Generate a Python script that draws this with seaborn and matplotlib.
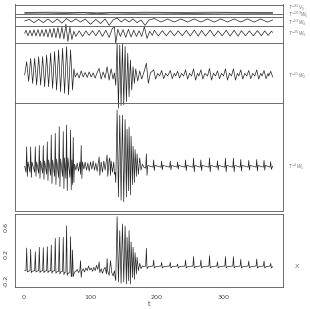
import numpy as np
import pandas as pd
import matplotlib
matplotlib.use("Agg")
import matplotlib.pyplot as plt
import seaborn as sns

sns.set_style("white")
plt.rcParams['font.family'] = ['DejaVu Sans']

# ---------------- data (key vertices) ----------------
# X series
x_t = [1, 3, 4, 5, 6, 9, 10, 11, 12, 16, 17, 18, 19, 22, 23, 24, 25, 28, 29, 30, 31, 34, 35, 36, 37,
       40, 41, 42, 43, 46, 47, 48, 49, 52, 53, 54, 55, 58, 59, 60, 61, 63, 64, 65, 66, 69, 70, 71, 72,
       73, 74, 75, 77,
       78, 80, 82, 84, 85, 86, 87, 89, 91, 93, 95, 97, 99, 101, 103, 105, 107, 109, 111, 113,
       114, 116, 118, 120, 122, 124, 125, 126, 128, 130, 132, 134, 136,
       137, 138, 140, 142, 144, 146, 148, 150, 152, 154, 155, 157, 158, 160, 161, 163, 164, 166, 167,
       169, 170, 172, 174, 176, 178,
       180, 183, 184, 185, 187, 194, 195, 196, 198, 206, 207, 208, 210, 219, 220, 221, 223, 230, 231,
       232, 234, 242, 243, 244, 246, 254, 255, 256, 258, 265, 266, 267, 269, 278, 279, 280, 282, 290,
       291, 292, 294, 302, 303, 304, 306, 314, 315, 316, 318, 325, 326, 327, 329, 337, 338, 339, 341,
       349, 350, 351, 353, 360, 361, 362, 364, 370, 371, 372, 374]
x_v = [-0.05, -0.05, 0.29, -0.07, -0.06, -0.05, 0.27, -0.08, -0.06, -0.05, 0.235, -0.07, -0.06,
       -0.05, 0.30, -0.08, -0.06, -0.05, 0.295, -0.08, -0.06, -0.05, 0.31, -0.08, -0.06,
       -0.05, 0.335, -0.09, -0.06, -0.05, 0.435, -0.09, -0.07, -0.06, 0.45, -0.10, -0.07,
       -0.06, 0.45, -0.11, -0.08, -0.07, 0.625, -0.12, -0.09, -0.08, 0.46, -0.13, -0.14,
       0.26, -0.14, -0.10, -0.06,
       -0.06, -0.03, -0.08, -0.04, 0.10, -0.15, -0.06, -0.02, -0.07, -0.01, -0.05, 0.02, -0.04, -0.01,
       -0.06, 0.0, -0.05, 0.03, -0.03, 0.08, -0.08, -0.02, -0.09, -0.03, 0.0, -0.10, 0.13, -0.06,
       -0.12, 0.10, -0.08, -0.13, -0.05,
       -0.15, -0.20, 0.76, -0.22, 0.55, -0.24, 0.65, -0.22, 0.62, -0.25, 0.45, -0.20, 0.55, -0.25,
       0.38, -0.15, 0.30, -0.18, 0.22, -0.10, 0.15, -0.05, 0.06, -0.02, 0.02,
       0.01,
       0.02, 0.285, -0.02, 0.01, 0.02, 0.11, -0.01, 0.01, 0.02, 0.075, -0.01, 0.01,
       0.02, 0.075, -0.01, 0.01, 0.02, 0.05, -0.01, 0.01, 0.02, 0.11, -0.01, 0.01,
       0.02, 0.16, -0.01, 0.01, 0.02, 0.11, -0.01, 0.01, 0.02, 0.175, -0.01, 0.01,
       0.02, 0.085, -0.01, 0.01, 0.02, 0.16, -0.01, 0.01, 0.02, 0.16, -0.01, 0.01,
       0.02, 0.12, -0.01, 0.01, 0.02, 0.095, -0.01, 0.01, 0.02, 0.125, -0.01, 0.01,
       0.02, 0.095, -0.01, 0.01, 0.02, 0.06, -0.01, 0.01]

# W1 detail
w1_t = [1, 3, 4, 5, 6, 9, 10, 11, 12, 16, 17, 18, 19, 22, 23, 24, 25, 28, 29, 30, 31, 34, 35, 36, 37,
        40, 41, 42, 43, 46, 47, 48, 49, 52, 53, 54, 55, 58, 59, 60, 61, 63, 64, 65, 66, 69, 70, 71, 72,
        73, 74, 75, 76,
        78, 80, 82, 84, 85, 86, 87, 88, 90, 92, 94, 96, 98, 100, 102, 104, 106, 108, 110, 112,
        113, 114, 116, 118, 120, 122, 124, 125, 126, 128, 129, 130, 131, 133, 135, 136,
        137, 138, 140, 142, 144, 146, 148, 150, 152, 154, 155, 157, 158, 160, 161, 163, 164, 166, 167,
        169, 170, 172, 174, 176, 178, 180,
        183, 184, 185, 186, 194, 195, 196, 197, 206, 207, 208, 209, 219, 220, 221, 222, 230, 231, 232,
        233, 242, 243, 244, 245, 254, 255, 256, 257, 265, 266, 267, 268, 278, 279, 280, 281, 290, 291,
        292, 293, 302, 303, 304, 305, 314, 315, 316, 317, 325, 326, 327, 328, 337, 338, 339, 340, 349,
        350, 351, 352, 360, 361, 362, 363, 370, 371, 372, 374]
w1_v = [0.0, -0.3, 0.94, -0.5, 0.2, -0.3, 0.94, -0.55, 0.2, -0.3, 0.94, -0.5, 0.2,
        -0.35, 1.0, -0.6, 0.25, -0.35, 1.0, -0.65, 0.25, -0.4, 1.18, -0.7, 0.3,
        -0.45, 1.51, -0.85, 0.3, -0.5, 1.6, -0.9, 0.35, -0.55, 1.92, -1.0, 0.35,
        -0.5, 1.68, -1.1, 0.4, -0.6, 2.0, -1.2, 0.4, -0.55, 1.75, -1.15, 0.3,
        -0.9, 1.4, -0.8, 0.1,
        -0.2, 0.15, -0.25, 0.2, -0.4, 1.0, -0.6, 0.2, -0.15, 0.2, -0.2, 0.15, -0.25, 0.2, -0.15, 0.25,
        -0.2, 0.15, -0.25, 0.2,
        0.45, -0.45, 0.2, -0.3, 0.25, -0.2, 0.3, 0.54, -0.5, 0.3, 0.4, -0.45, 0.25, -0.3, 0.2, -0.4,
        -0.3, -0.8, 2.73, -1.5, 2.48, -1.66, 2.48, -1.74, 2.27, -1.5, 1.8, -1.2, 1.9, -1.4, 1.46,
        -0.9, 0.97, -0.8, 0.8, -0.5, 0.6, -0.4, 0.4, -0.2, 0.1, -0.05,
        -0.1, 0.6, -0.45, 0.03, -0.05, 0.3, -0.22, 0.03, -0.05, 0.25, -0.18, 0.03,
        -0.05, 0.25, -0.18, 0.03, -0.05, 0.2, -0.15, 0.03, -0.05, 0.3, -0.22, 0.03,
        -0.05, 0.38, -0.28, 0.03, -0.05, 0.3, -0.22, 0.03, -0.05, 0.4, -0.28, 0.03,
        -0.05, 0.26, -0.2, 0.03, -0.05, 0.38, -0.28, 0.03, -0.05, 0.38, -0.28, 0.03,
        -0.05, 0.32, -0.24, 0.03, -0.05, 0.28, -0.2, 0.03, -0.05, 0.32, -0.24, 0.03,
        -0.05, 0.28, -0.2, 0.03, -0.05, 0.22, -0.16, 0.0]

# W2 detail
w2_t = [1, 4, 7, 10, 13, 16, 19, 22, 25, 28, 31, 34, 37, 40, 43, 46, 49, 52, 55, 58, 61, 64, 67, 70,
        73, 75, 77,
        80, 83, 86, 89, 92, 95, 98, 101, 104, 107, 110, 113, 116, 119, 122, 125, 128, 131, 134, 136,
        138, 140, 142, 144, 146, 148, 150, 152, 154, 156, 158, 160, 162, 164, 166, 168, 171, 174, 177,
        180, 184, 187, 190,
        195, 198, 201, 204, 207, 210, 213, 216, 220, 223, 226, 228, 231, 234, 237, 240, 243, 246, 249,
        252, 255, 258, 261, 263, 266, 269, 272, 276, 279, 282, 285, 288, 291, 294, 297, 300, 303, 306,
        309, 312, 315, 318, 321, 323, 326, 329, 332, 335, 338, 341, 344, 347, 350, 353, 356, 358, 361,
        364, 367, 368, 371, 374]
w2_v = [0.0, 0.65, -0.32, 0.81, -0.41, 0.81, -0.49, 0.89, -0.49, 0.89, -0.57, 0.97, -0.57, 1.06,
        -0.65, 1.14, -0.73, 1.22, -0.81, 1.30, -0.89, 1.38, -0.97, 1.22, -0.73, 0.3, -0.1,
        0.1, -0.15, 0.2, -0.1, 0.12, -0.12, 0.15, -0.1, 0.1, -0.15, 0.12, 0.32, -0.2, 0.15, -0.15,
        0.4, -0.25, 0.3, -0.2, 0.1,
        -0.5, 1.54, -1.62, 1.46, -1.5, 1.5, -1.45, 1.38, -1.3, 1.06, -1.06, 0.73, -0.73, 0.4, -0.41,
        0.3, -0.3, 0.2, -0.2, 0.1, 0.57, -0.41, 0.1,
        0.25, -0.2, 0.08, -0.05, 0.22, -0.18, 0.08, -0.05, 0.22, -0.18, 0.08, -0.05,
        0.18, -0.15, 0.08, -0.05, 0.25, -0.2, 0.08, -0.05, 0.3, -0.25, 0.08, -0.05,
        0.25, -0.2, 0.08, -0.05, 0.32, -0.25, 0.08, -0.05, 0.2, -0.18, 0.08, -0.05,
        0.3, -0.25, 0.08, -0.05, 0.3, -0.25, 0.08, -0.05, 0.25, -0.2, 0.08, -0.05,
        0.22, -0.18, 0.08, -0.05, 0.25, -0.2, 0.08, -0.05, 0.22, -0.18, 0.08, -0.05,
        0.18, -0.1]

# W3 detail
w3_t = [1, 3, 6, 9, 12, 15, 18, 21, 24, 27, 30, 33, 36, 39, 42, 45, 48, 51, 54, 57, 60, 63, 66, 69,
        72, 75,
        78, 83, 88, 93, 98, 103, 108, 113, 118, 123, 128, 133,
        136, 138, 141, 145, 149, 153, 157, 161, 165, 169, 173, 177, 181, 185, 189,
        193, 196, 202, 208, 214, 220, 226, 232, 238, 244, 250, 256, 262, 267, 273, 280, 286, 292, 298,
        304, 310, 316, 322, 327, 333, 339, 345, 351, 357, 362, 367, 372, 374]
w3_v = [0.0, 0.15, -0.12, 0.15, -0.13, 0.17, -0.13, 0.18, -0.15, 0.18, -0.15, 0.2, -0.18, 0.22,
        -0.2, 0.25, -0.22, 0.28, -0.25, 0.3, -0.28, 0.45, -0.4, 0.3, -0.3, 0.1,
        -0.15, 0.12, -0.15, 0.12, -0.1, 0.13, -0.12, 0.15, -0.15, 0.15, -0.2, 0.25,
        0.3, -0.49, 0.2, -0.15, 0.18, -0.2, 0.2, -0.18, 0.15, -0.15, 0.12, -0.15, 0.32, -0.25, 0.1,
        -0.1, 0.15, -0.13, 0.13, -0.12, 0.13, -0.12, 0.12, -0.12, 0.14, -0.13, 0.16, -0.14, 0.14,
        -0.13, 0.16, -0.14, 0.12, -0.12, 0.15, -0.14, 0.15, -0.14, 0.13, -0.12, 0.12, -0.12, 0.13,
        -0.12, 0.12, -0.1, 0.1, 0.05]

# W4 detail
w4_t = [1, 8, 15, 22, 29, 36, 43, 50, 57, 64, 71, 78, 85, 92, 100, 108, 115, 122, 128, 134, 140,
        146, 152, 158, 164, 170, 176, 182, 188, 196, 206, 216, 226, 236, 246, 256, 266, 276, 286, 296,
        306, 316, 326, 336, 346, 356, 366, 374]
w4_v = [0.0, 0.08, -0.08, 0.08, -0.08, 0.1, -0.08, 0.1, -0.1, 0.12, -0.05, 0.1, -0.05, 0.1, -0.16,
        0.08, -0.12, 0.1, -0.21, 0.05, 0.15, -0.05, 0.1, -0.05, 0.1, -0.08, 0.05, -0.21, 0.05, 0.12,
        -0.05, 0.1, -0.05, 0.1, -0.05, 0.1, -0.05, 0.1, -0.05, 0.1, -0.05, 0.1, -0.05, 0.1, -0.05,
        0.1, -0.05, 0.05]

# W5 detail and V5 smooth
w5_t = [1, 30, 60, 90, 110, 130, 160, 200, 250, 300, 350, 374]
w5_v = [0.0, 0.01, -0.01, 0.02, -0.03, 0.02, 0.0, 0.01, -0.01, 0.01, 0.0, 0.0]
v5_t = [1, 40, 80, 110, 140, 180, 230, 280, 330, 374]
v5_v = [0.0, 0.01, 0.0, -0.02, -0.01, 0.01, 0.0, 0.01, 0.0, 0.0]

labels = [r"$T^{-4}W_1$", r"$T^{-11}W_2$", r"$T^{-25}W_3$", r"$T^{-53}W_4$",
          r"$T^{-109}W_5$", r"$T^{-93}V_5$"]
x_ticks = [0, 100, 200, 300]
y_ticks_x = [-0.2, 0.0, 0.2, 0.4, 0.6]
y_labels_x = ["-0.2", "", "0.2", "", "0.6"]

# ---------------- layout ----------------
W, H = 310, 309
fig = plt.figure(figsize=(W / 100, H / 100), dpi=100)

def rect(l, t, r, b):
    return [l / W, 1 - b / H, (r - l) / W, (b - t) / H]

ax_top = fig.add_axes(rect(14.7, 4.5, 283, 210.5))
ax_x = fig.add_axes(rect(14.7, 214, 283, 287))

line_col = "#222222"
frame_col = "#555555"
lw = 0.5

offsets = [1.75, 6.19, 8.22, 8.82, 9.20, 9.24]
series = [(w1_t, w1_v), (w2_t, w2_v), (w3_t, w3_v), (w4_t, w4_v), (w5_t, w5_v), (v5_t, v5_v)]
for (tt, vv), off in zip(series, offsets):
    df = pd.DataFrame({"t": tt, "v": np.asarray(vv) + off})
    sns.lineplot(data=df, x="t", y="v", ax=ax_top, color=line_col, lw=lw,
                 estimator=None, sort=False)

for sep in [4.82, 7.73, 8.58, 9.03, 9.15]:
    ax_top.axhline(sep, color=frame_col, lw=0.6)

ax_top.set_xlim(-14, 389.5)
ax_top.set_ylim(-0.414, 9.625)
ax_top.set_yticks(range(0, 10))
ax_top.set_xticks(x_ticks)
ax_top.tick_params(axis="both", which="both", direction="out", length=3, width=0.6,
                   color=frame_col, labelleft=False, labelbottom=False)
ax_top.set_xlabel("")
ax_top.set_ylabel("")

dfx = pd.DataFrame({"t": x_t, "x": x_v})
sns.lineplot(data=dfx, x="t", y="x", ax=ax_x, color=line_col, lw=lw, estimator=None, sort=False)
ax_x.set_xlim(-14, 389.5)
ax_x.set_ylim(-0.295, 0.8)
ax_x.set_xticks(x_ticks)
ax_x.set_xticklabels([str(v) for v in x_ticks])
ax_x.set_yticks(y_ticks_x)
ax_x.set_yticklabels(y_labels_x, rotation=90, va="center")
ax_x.tick_params(axis="x", direction="out", length=3, width=0.6, color=frame_col,
                 labelsize=4.6, labelcolor="#444444", pad=3)
ax_x.tick_params(axis="y", direction="out", length=3, width=0.6, color=frame_col,
                 labelsize=4.6, labelcolor="#444444", pad=1.2)
ax_x.set_xlabel("t", fontsize=4.8, color="#444444", labelpad=0.8)
ax_x.set_ylabel("")

for ax in (ax_top, ax_x):
    for s in ax.spines.values():
        s.set_color(frame_col)
        s.set_linewidth(0.6)

# right-hand labels
label_y = [167, 75.5, 34, 22.5, 15.2, 8.0]
for lab, py in zip(labels, label_y):
    fig.text(288.5 / W, 1 - py / H, lab, fontsize=3.3, color="#777777", va="center", ha="left")
fig.text(297 / W, 1 - 266 / H, "X", fontsize=4.6, color="#777777", va="center", ha="center")

fig.savefig("out.png", dpi=100)
